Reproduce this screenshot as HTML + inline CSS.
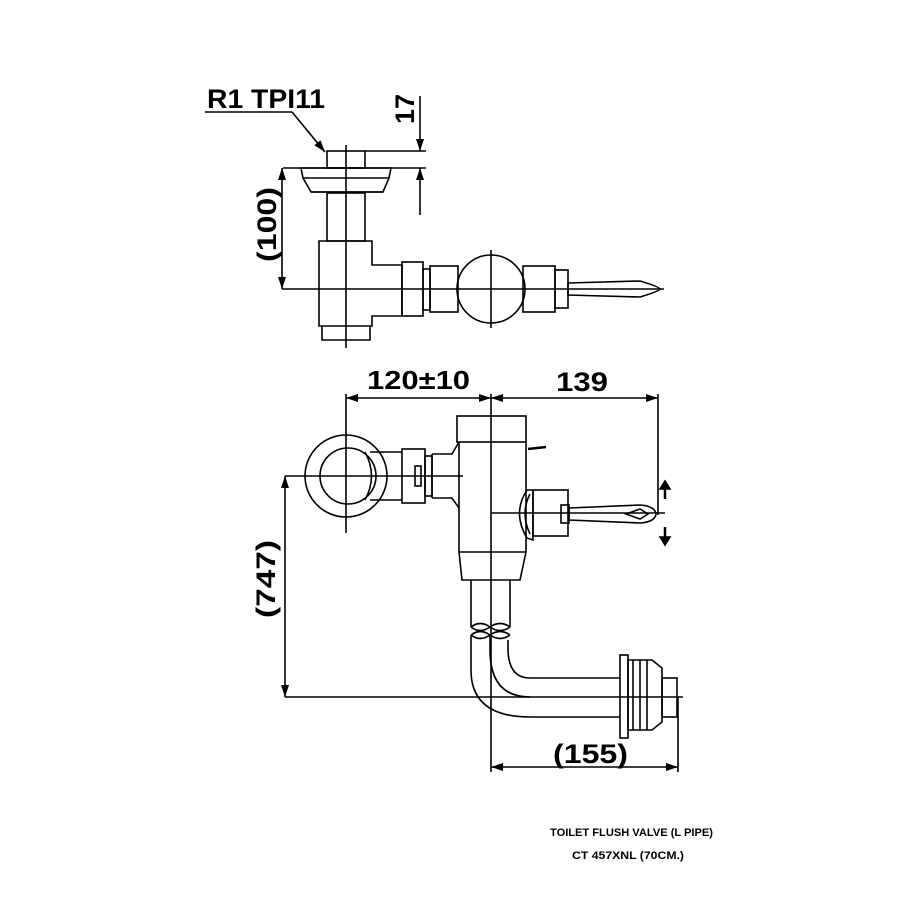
<!DOCTYPE html>
<html><head><meta charset="utf-8"><style>
html,body{margin:0;padding:0;background:#fff;}
svg{display:block}
text{font-family:"Liberation Sans",sans-serif;font-weight:bold;fill:#000}
</style></head><body>
<svg width="900" height="900" viewBox="0 0 900 900" xmlns="http://www.w3.org/2000/svg">
<defs>
<marker id="a" markerWidth="12" markerHeight="8" refX="12" refY="4" orient="auto" markerUnits="userSpaceOnUse"><path d="M0,0 L12,4 L0,8 z" fill="#000"/></marker>
</defs>
<g fill="none" stroke="#000" stroke-width="1.6">
<!-- TOP VIEW -->
<line x1="205" y1="112" x2="292" y2="112"/>
<line x1="292" y1="112" x2="325" y2="152" marker-end="url(#a)"/>
<rect x="327" y="151" width="38" height="17"/>
<line x1="365" y1="151" x2="426" y2="151"/>
<line x1="283" y1="168" x2="426" y2="168"/>
<path d="M301,168 L391,168 L389,178 L303,178 Z"/>
<path d="M303,178 L311,192 L383,192 L389,178"/>
<line x1="311" y1="192" x2="383" y2="192"/>
<rect x="327" y="193" width="38" height="48"/>
<path d="M319,241 L372,241 L372,265 L402,265 L402,316 L372,316 L372,326 L319,326 Z"/>
<path d="M322,326 L322,340 L370,340 L370,326"/>
<rect x="402" y="262" width="21" height="54"/>
<rect x="423" y="269" width="7" height="41"/>
<rect x="430" y="266" width="28" height="46"/>
<circle cx="491" cy="289" r="34"/>
<rect x="523" y="266" width="32" height="46"/>
<rect x="555" y="270" width="13" height="38"/>
<path d="M568,283 L640,281 Q660,287 660,289 Q660,291 640,297 L568,295 Z"/>
<line x1="346" y1="145" x2="346" y2="348"/>
<line x1="282" y1="289" x2="664" y2="289"/>
<line x1="491" y1="250" x2="491" y2="328"/>
<!-- dim 17 -->
<line x1="420" y1="96" x2="420" y2="151" marker-end="url(#a)"/>
<line x1="420" y1="215" x2="420" y2="168" marker-end="url(#a)"/>
<!-- dim 100 -->
<line x1="282" y1="228" x2="282" y2="168" marker-end="url(#a)"/>
<line x1="282" y1="228" x2="282" y2="289" marker-end="url(#a)"/>

<!-- FRONT VIEW -->
<line x1="346" y1="394" x2="346" y2="533"/>
<line x1="491" y1="394" x2="491" y2="772"/>
<line x1="658" y1="394" x2="658" y2="515"/>
<line x1="420" y1="398" x2="346" y2="398" marker-end="url(#a)"/>
<line x1="420" y1="398" x2="491" y2="398" marker-end="url(#a)"/>
<line x1="575" y1="398" x2="491" y2="398" marker-end="url(#a)"/>
<line x1="575" y1="398" x2="658" y2="398" marker-end="url(#a)"/>
<circle cx="346" cy="476" r="41"/>
<circle cx="348" cy="476" r="28"/>
<path d="M365,452 Q378,476 365,500"/>
<line x1="370" y1="452" x2="402" y2="452"/>
<line x1="370" y1="500" x2="402" y2="500"/>
<rect x="402" y="449" width="23" height="54"/>
<rect x="415" y="466" width="6" height="20"/>
<rect x="425" y="456" width="7" height="40"/>
<path d="M432,454 L452,454 L459,442 M432,498 L452,498 L459,508"/>
<line x1="432" y1="454" x2="432" y2="498"/>
<rect x="457" y="416" width="69" height="26"/>
<path d="M459,442 L459,552 L526,552 L526,442"/>
<path d="M459,552 L462,580 L520,580 L526,552"/>
<line x1="285" y1="476" x2="463" y2="476"/>
<!-- logo mark -->
<path d="M528,449 L546,447" stroke-width="2.5"/>
<!-- hub -->
<path d="M527,490 Q512,513 527,538 L533,540 L533,490 Z"/>
<path d="M530,494 Q520,513 530,534"/>
<rect x="533" y="490" width="35" height="46"/>
<rect x="561" y="505" width="8" height="18"/>
<path d="M569,508 L640,505 Q655,506 656,514 Q655,522 640,523 L569,520 Z"/>
<path d="M626,514 L640,509 L648,514 L640,519 Z"/>
<line x1="491" y1="513" x2="665" y2="513"/>
<!-- up/down arrows -->
<path d="M665,499 L665,488" stroke-width="2.5"/>
<path d="M660,489 L665,481 L670,489 Z" fill="#000"/>
<path d="M665,527 L665,538" stroke-width="2.5"/>
<path d="M660,537 L665,545 L670,537 Z" fill="#000"/>
<!-- pipe -->
<path d="M471,580 L471,627 M510,580 L510,627"/>
<path d="M471,627 Q480,620 490,627 Q500,620 510,627 M471,627 Q480,634 490,627 Q500,634 510,627"/>
<path d="M471,635 Q480,628 490,635 Q500,628 510,635 M471,635 Q480,642 490,635 Q500,642 510,635"/>
<path d="M471,635 L471,670 Q471,717 530,717 L620,717"/>
<path d="M490,635 L490,650 Q490,697 530,697"/>
<path d="M508,640 L508,648 Q508,678 530,678 L620,678"/>
<rect x="620" y="655" width="8" height="83"/>
<path d="M628,660 L652,660 L662,668 L662,722 L652,730 L628,730 Z"/>
<line x1="633" y1="660" x2="633" y2="730"/>
<line x1="640" y1="660" x2="640" y2="730"/>
<line x1="647" y1="660" x2="647" y2="730"/>
<rect x="662" y="678" width="15" height="39"/>
<line x1="285" y1="697" x2="683" y2="697"/>
<line x1="678" y1="697" x2="678" y2="772"/>
<!-- dim 747 -->
<line x1="285" y1="590" x2="285" y2="476" marker-end="url(#a)"/>
<line x1="285" y1="590" x2="285" y2="697" marker-end="url(#a)"/>
<!-- dim 155 -->
<line x1="585" y1="767" x2="491" y2="767" marker-end="url(#a)"/>
<line x1="585" y1="767" x2="678" y2="767" marker-end="url(#a)"/>
</g>
<text x="207" y="108" font-size="27" textLength="118" lengthAdjust="spacingAndGlyphs">R1 TPI11</text>
<text transform="translate(414,124) rotate(-90)" font-size="27">17</text>
<text transform="translate(276,262) rotate(-90)" font-size="27" textLength="75" lengthAdjust="spacingAndGlyphs">(100)</text>
<text x="367" y="389" font-size="26" textLength="103" lengthAdjust="spacingAndGlyphs">120±10</text>
<text x="556" y="391" font-size="27" textLength="52" lengthAdjust="spacingAndGlyphs">139</text>
<text transform="translate(275,618) rotate(-90)" font-size="27" textLength="78" lengthAdjust="spacingAndGlyphs">(747)</text>
<text x="553" y="763" font-size="27" textLength="75" lengthAdjust="spacingAndGlyphs">(155)</text>
<text x="550" y="836" font-size="11" textLength="163" lengthAdjust="spacingAndGlyphs">TOILET FLUSH VALVE (L PIPE)</text>
<text x="572" y="859" font-size="11" textLength="112" lengthAdjust="spacingAndGlyphs">CT 457XNL (70CM.)</text>
</svg>
</body></html>
